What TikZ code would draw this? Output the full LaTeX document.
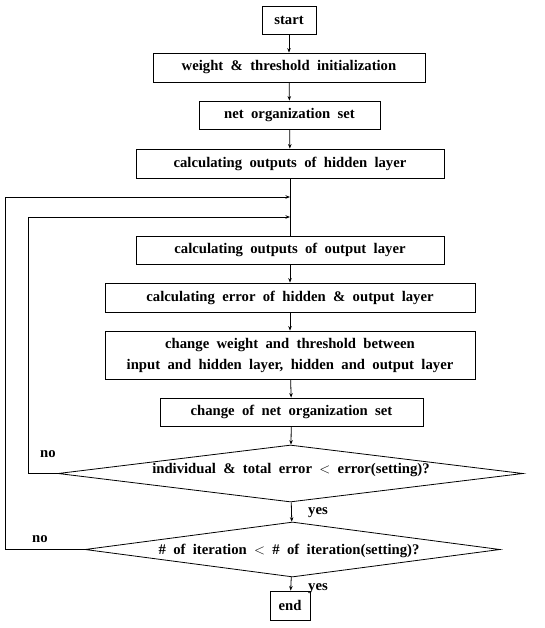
\documentclass[tikz,border=0pt]{standalone}
\usepackage{fontspec}
\setmainfont[WordSpace=2.0]{Liberation Serif}
\usetikzlibrary{shapes.geometric,arrows.meta}
\begin{document}
\begin{tikzpicture}[x=1pt,y=-1pt,
  every node/.style={font=\fontsize{14.7}{17}\selectfont\bfseries},
  box/.style={draw,line width=0.8pt,rectangle,inner sep=0pt,align=center},
  dia/.style={draw,line width=0.8pt,diamond,inner sep=0pt,aspect=8},
  lbl/.style={inner sep=0pt},
  conn/.style={line width=0.8pt},
  arr/.style={line width=0.8pt,-{Stealth[length=4.5pt,width=3.5pt]}}]
\useasboundingbox (0,0) rectangle (544,628);
\node[box,minimum width=54,minimum height=28] (start) at (289,20) {start};
\node[box,minimum width=272,minimum height=29] (init) at (289,67.5) {weight \& threshold initialization};
\node[box,minimum width=181,minimum height=28] (net) at (289.5,115) {net organization set};
\node[box,minimum width=308,minimum height=29] (hid) at (290,163.5) {calculating outputs of hidden layer};
\node[box,minimum width=308,minimum height=28] (out) at (290,250) {calculating outputs of output layer};
\node[box,minimum width=370,minimum height=29] (err) at (290,297.5) {calculating error of hidden \& output layer};
\node[box,minimum width=370,minimum height=48] (chg) at (290,355) {change weight and threshold between\\[4pt] input and hidden layer, hidden and output layer};
\node[box,minimum width=263,minimum height=28] (cnet) at (291.5,412) {change of net organization set};
\node[dia,minimum width=465,minimum height=57] (d1) at (290.5,473.5) {};
\node[lbl] (d1t) at (291,470) {individual \& total error $<$ error(setting)?};
\node[dia,minimum width=415,minimum height=55] (d2) at (292.5,549.5) {};
\node[lbl] (d2t) at (289,551) {\# of iteration $<$ \# of iteration(setting)?};
\node[box,minimum width=40,minimum height=29] (end) at (290,605.5) {end};
\node[lbl] (yes1) at (318,513) {yes};
\node[lbl] (yes2) at (318,589) {yes};
\node[lbl] (no1) at (48,454) {no};
\node[lbl] (no2) at (40,539) {no};
\coordinate (j1) at (290,197);
\coordinate (j2) at (290,217);
\coordinate (o1) at (5,549.5);
\coordinate (o2) at (5,197);
\coordinate (i1) at (28,473.5);
\coordinate (i2) at (28,217);
\draw[arr] (start) -- (init);
\draw[arr] (init) -- (net);
\draw[arr] (net) -- (hid);
\draw[conn] (hid) -- (out);
\draw[arr] (out) -- (err);
\draw[arr] (err) -- (chg);
\draw[arr] (chg) -- (cnet);
\draw[arr] (cnet) -- (d1);
\draw[arr] (d1) -- (d2);
\draw[arr] (d2) -- (end);
\draw[arr] (d1.west) -- (i1) -- (i2) -- (j2);
\draw[arr] (d2.west) -- (o1) -- (o2) -- (j1);
\end{tikzpicture}
\end{document}
